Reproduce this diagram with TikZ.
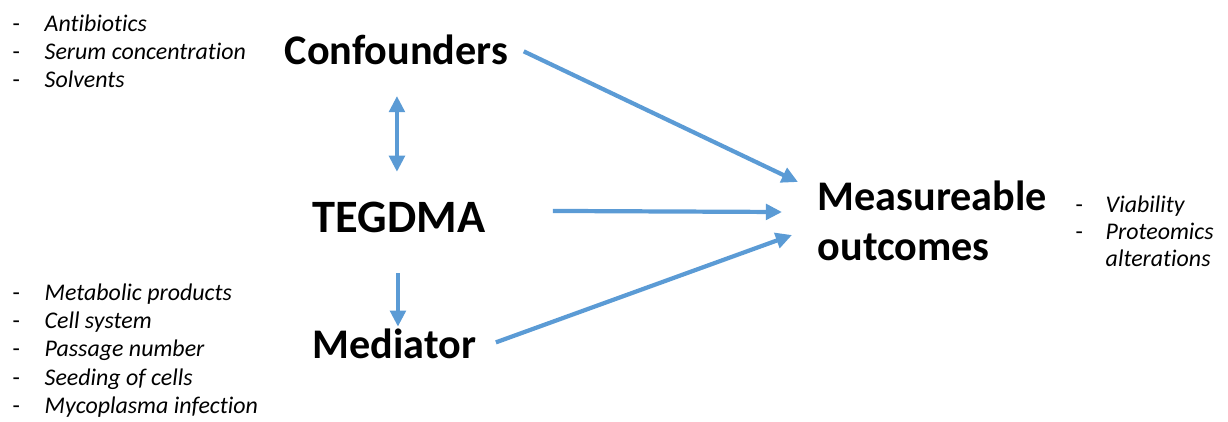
\documentclass[tikz,border=0pt]{standalone}
\usepackage{fontspec}
\setmainfont{Carlito}[Ligatures=NoCommon]
\usepackage{xcolor}
\usepackage{tikz}
\usetikzlibrary{arrows.meta}

\definecolor{arrowblue}{RGB}{91,155,213}
\newcommand{\listitem}[1]{-&\textit{#1}}

\begin{document}
\begin{tikzpicture}[x=0.01cm, y=-0.01cm,
    mainlabel/.style={inner sep=0pt, anchor=base west, font=\bfseries\fontsize{12}{12.8}\selectfont},
    sidelist/.style={inner sep=0pt, anchor=base west, font=\fontsize{6.8}{8.1}\selectfont},
    bluearrow/.style={draw=arrowblue, line width=1.2pt, -{Triangle[length=4.6pt,width=4.4pt]}}]
  \useasboundingbox (0,0) rectangle (1228,421);

  % Main labels
  \node[mainlabel] (conf) at (284,64) {Confounders};
  \node[mainlabel, font=\bfseries\fontsize{13.2}{14}\selectfont] (teg) at (312,232) {TEGDMA};
  \node[mainlabel] (med) at (312,358) {Mediator};
  \node[mainlabel] (meas) at (817,210) {\begin{tabular}[t]{@{}l@{}}Measureable\\[1.6pt] outcomes\end{tabular}};

  % Lists
  \node[sidelist] (conflist) at (12,31) {\begin{tabular}[t]{@{}p{0.32cm}@{}l@{}}
    \listitem{Antibiotics}\\ \listitem{Serum concentration}\\ \listitem{Solvents}\end{tabular}};
  \node[sidelist] (medlist) at (12,300) {\begin{tabular}[t]{@{}p{0.32cm}@{}l@{}}
    \listitem{Metabolic products}\\ \listitem{Cell system}\\ \listitem{Passage number}\\
    \listitem{Seeding of cells}\\ \listitem{Mycoplasma infection}\end{tabular}};
  \node[sidelist, font=\fontsize{6.8}{7.8}\selectfont] (measlist) at (1075,212) {\begin{tabular}[t]{@{}p{0.30cm}@{}l@{}}
    \listitem{Viability}\\ \listitem{Proteomics}\\ &\textit{alterations}\end{tabular}};

  % Arrows
  \draw[bluearrow, {Triangle[length=4.6pt,width=4.4pt]}-{Triangle[length=4.6pt,width=4.4pt]}]
    ([shift={(-2,31)}]teg.north |- conf.south) -- ([shift={(-2,-29)}]teg.north);
  \draw[bluearrow] ([shift={(-1,40)}]teg.south) -- ([shift={(-1,-1)}]teg.south |- med.north);
  \draw[bluearrow] ([shift={(15,2)}]conf.east) -- ([shift={(-19,-28)}]meas.base west);
  \draw[bluearrow] ([shift={(67,-6)}]teg.east) -- ([shift={(-35,2)}]meas.base west);
  \draw[bluearrow] ([shift={(19,-1)}]med.east) -- ([shift={(-25,25)}]meas.base west);
\end{tikzpicture}
\end{document}
